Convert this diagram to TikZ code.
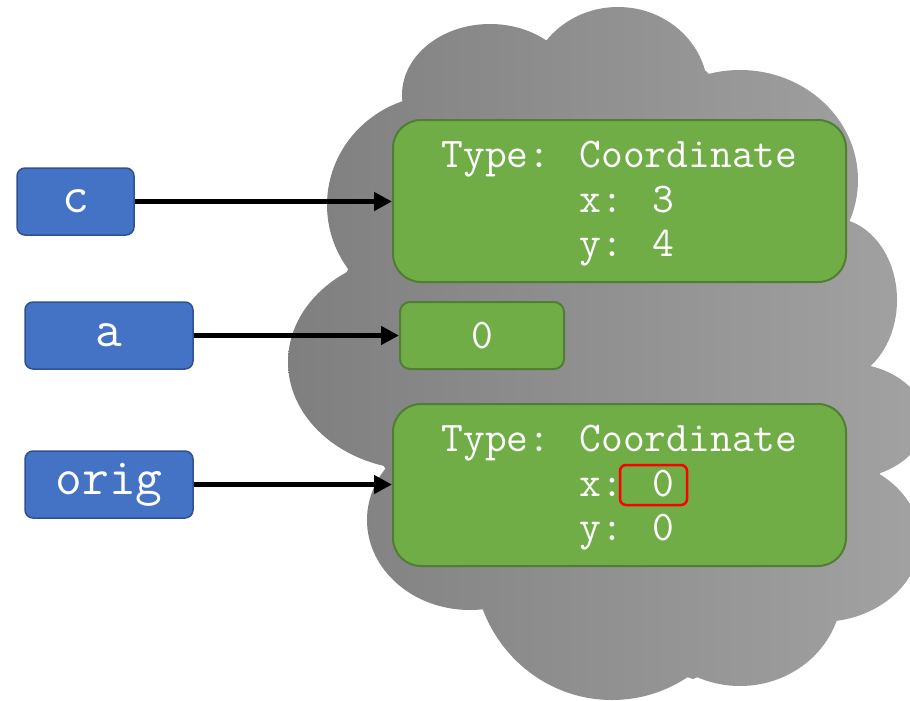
\documentclass[tikz,border=0pt]{standalone}
\usepackage{fontspec}
\usetikzlibrary{arrows.meta}
\definecolor{boxblue}{HTML}{4472C4}
\definecolor{boxblueline}{HTML}{2F528F}
\definecolor{objgreen}{HTML}{70AD47}
\definecolor{objgreenline}{HTML}{507E32}
\definecolor{cloudleft}{HTML}{7F7F7F}
\definecolor{cloudright}{HTML}{A2A2A2}
\tikzset{
  namebox/.style={draw=boxblueline, fill=boxblue, line width=1.5pt,
    rounded corners=8pt, text=white, inner sep=0pt,
    font=\ttfamily\fontsize{52}{56}\selectfont},
  objbox/.style={draw=objgreenline, fill=objgreen, line width=2pt,
    rounded corners=28pt, inner sep=0pt,
    minimum width=453pt, minimum height=162pt},
  objtext/.style={text=white, inner sep=0pt, align=left, yshift=-3pt,
    font=\ttfamily\fontsize{42.3}{44.5}\selectfont},
  valbox/.style={draw=objgreenline, fill=objgreen, line width=2pt,
    rounded corners=10pt, text=white, inner sep=0pt,
    minimum width=164pt, minimum height=67pt,
    font=\ttfamily\fontsize{42.3}{44.5}\selectfont},
  markbox/.style={draw=red, line width=2.5pt, rounded corners=6pt,
    minimum width=67pt, minimum height=40pt, inner sep=0pt},
  ref/.style={line width=5pt, -{Triangle[length=18pt, width=18pt]}},
}
\begin{document}
\begin{tikzpicture}[x=1pt, y=-1pt]
\useasboundingbox (0,0) rectangle (910,701);

% heap cloud: union of lobes plus a core polygon, shaded left to right
\shade[left color=cloudleft, right color=cloudright]
  (490,95) ellipse [x radius=88, y radius=71]
  (618,92) ellipse [x radius=90, y radius=85]
  (740,180) ellipse [x radius=118, y radius=110]
  (832,300) ellipse [x radius=65, y radius=82]
  (845,421) ellipse [x radius=80, y radius=58]
  (820,540) ellipse [x radius=100, y radius=82]
  (740,590) ellipse [x radius=102, y radius=96]
  (612,560) ellipse [x radius=138, y radius=140]
  (470,520) ellipse [x radius=103, y radius=90]
  (420,362) ellipse [x radius=132, y radius=108]
  (440,205) ellipse [x radius=113, y radius=110]
  (403,101) -- (545,42) -- (706,71) -- (847,221) -- (867,368) -- (880,475)
  -- (836,622) -- (693,679) -- (479,608) -- (383,465) -- (347,272) -- cycle;

% objects on the heap
\node[objbox] (obj1) at (619.5,201) {};
\node[objtext] (obj1text) at (obj1.center)
  {Type: Coordinate\\\hphantom{Type: }x: 3\\\hphantom{Type: }y: 4};
\node[valbox] (val) at (482,335.5) {0};
\node[objbox] (obj2) at (619.5,485) {};
\node[objtext] (obj2text) at (obj2.center)
  {Type: Coordinate\\\hphantom{Type: }x: 0\\\hphantom{Type: }y: 0};
\node[markbox] (mark) at (653.5,485) {};

% variable names
\node[namebox, minimum width=117pt, minimum height=67pt] (c) at (75.5,201.5) {c};
\node[namebox, minimum width=168pt, minimum height=67pt] (a) at (109,335.5) {a};
\node[namebox, minimum width=168pt, minimum height=67pt] (orig) at (109,484.5) {orig};

% references
\draw[ref] (c.east) -- (obj1.west |- c.east);
\draw[ref] (a.east) -- (val.west);
\draw[ref] (orig.east) -- (obj2.west |- orig.east);
\end{tikzpicture}
\end{document}
